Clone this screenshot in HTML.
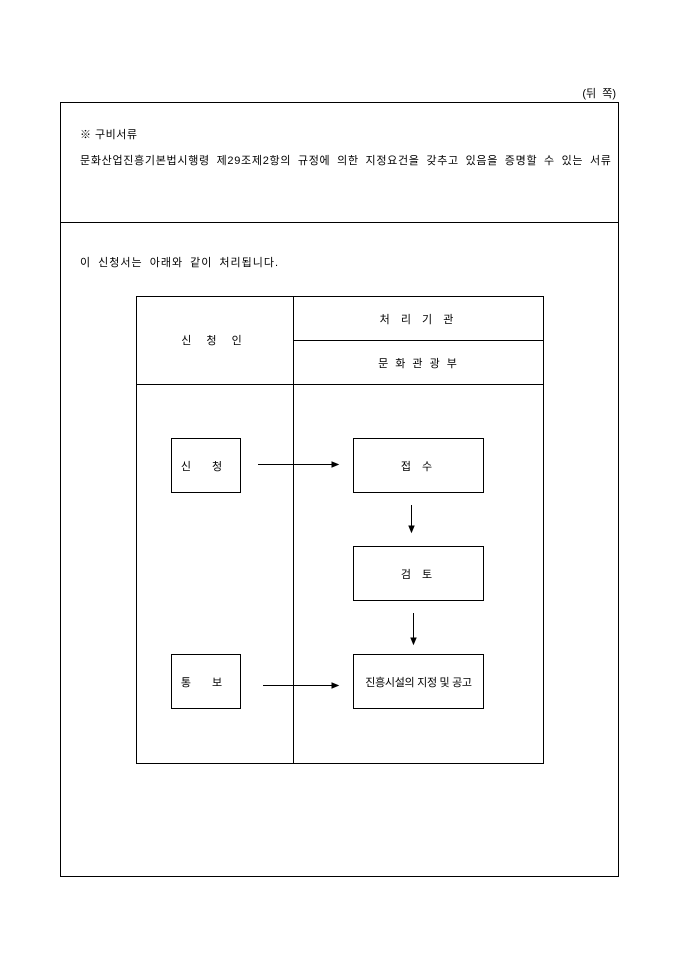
<!DOCTYPE html>
<html><head><meta charset="utf-8"><style>
body{margin:0;width:680px;height:962px;background:#fff;position:relative;font-family:"Liberation Sans","Noto Sans CJK KR","NanumGothic",sans-serif;font-size:11px;color:#000}
.a{position:absolute;white-space:nowrap}
.b{position:absolute;border:1px solid #000;box-sizing:border-box;display:flex;align-items:center;justify-content:center}
.l{position:absolute;background:#000}
</style></head><body>
<div class="a" style="right:64px;top:85px">(뒤&nbsp; 쪽)</div>
<div class="b" style="left:60px;top:102px;width:559px;height:775px"></div>
<div class="l" style="left:60px;top:222px;width:559px;height:1px"></div>
<div class="a" style="left:80px;top:126px;letter-spacing:0.5px">※ 구비서류</div>
<div class="a" style="left:80px;top:152px;letter-spacing:0.7px;word-spacing:3px">문화산업진흥기본법시행령 제29조제2항의 규정에 의한 지정요건을 갖추고 있음을 증명할 수 있는 서류</div>
<div class="a" style="left:80px;top:254px;letter-spacing:1px;word-spacing:3px">이 신청서는 아래와 같이 처리됩니다.</div>
<div class="b" style="left:136px;top:296px;width:408px;height:468px"></div>
<div class="l" style="left:293px;top:296px;width:1px;height:468px"></div>
<div class="l" style="left:293px;top:340px;width:251px;height:1px"></div>
<div class="l" style="left:136px;top:384px;width:408px;height:1px"></div>
<div class="a" style="left:136px;width:157px;top:332px;text-align:center;letter-spacing:6px">신 청 인</div>
<div class="a" style="left:293px;width:251px;top:311px;text-align:center;letter-spacing:4px">처 리 기 관</div>
<div class="a" style="left:293px;width:251px;top:355px;text-align:center;letter-spacing:2px">문 화 관 광 부</div>
<div class="b" style="left:171px;top:438px;width:70px;height:55px;letter-spacing:9px">신 청</div>
<div class="b" style="left:353px;top:438px;width:131px;height:55px;letter-spacing:4px">접 수</div>
<div class="b" style="left:353px;top:546px;width:131px;height:55px;letter-spacing:4px">검 토</div>
<div class="b" style="left:353px;top:654px;width:131px;height:55px;letter-spacing:-0.3px">진흥시설의 지정 및 공고</div>
<div class="b" style="left:171px;top:654px;width:70px;height:55px;letter-spacing:9px">통 보</div>
<svg style="position:absolute;left:0;top:0" width="680" height="962">
<g stroke="#000" stroke-width="1" fill="#000">
<line x1="258" y1="464.5" x2="333" y2="464.5"/><polygon points="338,464.5 332,462 332,467"/>
<line x1="263" y1="685.5" x2="333" y2="685.5"/><polygon points="338,685.5 332,683 332,688"/>
<line x1="411.5" y1="505" x2="411.5" y2="526"/><polygon points="411.5,532 409,526 414,526"/>
<line x1="413.5" y1="613" x2="413.5" y2="638"/><polygon points="413.5,644 411,638 416,638"/>
</g></svg>
</body></html>
